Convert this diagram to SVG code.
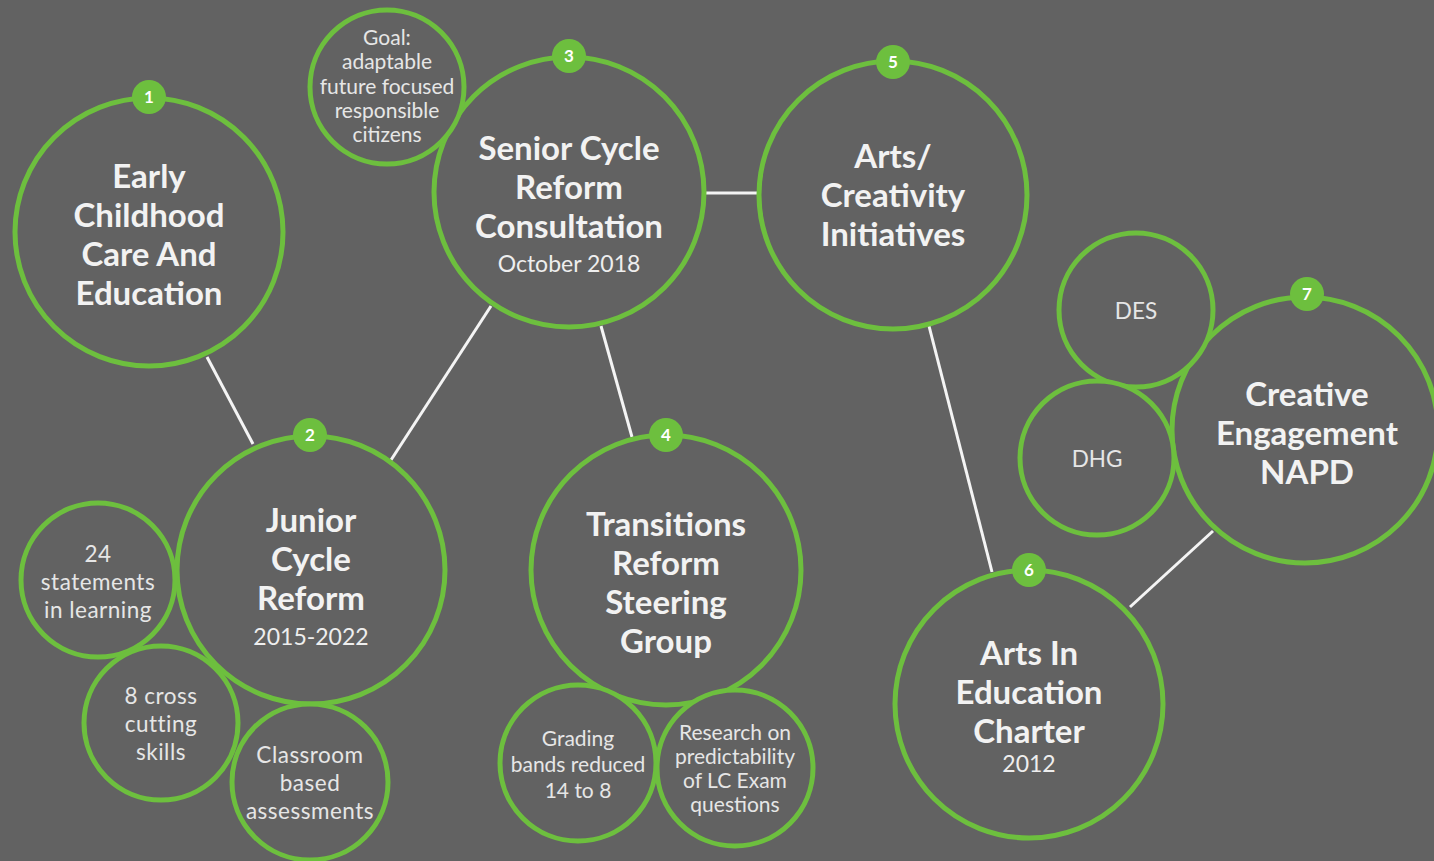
<svg xmlns="http://www.w3.org/2000/svg" width="1434" height="861" viewBox="0 0 1434 861">
<style>
.ring{fill:#626262;stroke:#6dbf3e;stroke-width:5}
.badge{fill:#6dbf3e}
.bn{font-family:Lato,"Liberation Sans",sans-serif;font-weight:700;font-size:17px;fill:#ffffff;text-anchor:middle}
.big{font-family:Lato,"Liberation Sans",sans-serif;font-weight:700;font-size:33px;fill:#f2f2f2;text-anchor:middle}
.sub{font-family:Lato,"Liberation Sans",sans-serif;font-size:23px;fill:#eeeeee;text-anchor:middle}
.sm{font-family:Lato,"Liberation Sans",sans-serif;font-size:21px;fill:#e6e6e6;text-anchor:middle}
.smw{font-family:Lato,"Liberation Sans",sans-serif;font-size:22.5px;letter-spacing:0.5px;fill:#e6e6e6;text-anchor:middle}
.link{stroke:#f4f4f4;stroke-width:3;fill:none}
</style>
<rect width="1434" height="861" fill="#626262"/>
<g id="connectors">
<line class="link" x1="207" y1="357" x2="253" y2="444"/>
<line class="link" x1="391" y1="460" x2="491" y2="306"/>
<line class="link" x1="705" y1="193" x2="757" y2="193"/>
<line class="link" x1="601" y1="326" x2="632" y2="437"/>
<line class="link" x1="929" y1="326" x2="992" y2="572"/>
<line class="link" x1="1130" y1="607" x2="1213" y2="531"/>
</g>
<g id="n1">
<circle class="ring" cx="149" cy="232" r="134"/>
<text class="big" x="149" y="188">Early</text>
<text class="big" x="149" y="227">Childhood</text>
<text class="big" x="149" y="266">Care And</text>
<text class="big" x="149" y="305">Education</text>
<circle class="badge" cx="149" cy="97" r="17"/>
<text class="bn" x="149" y="103">1</text>
</g>
<g id="n2">
<circle class="ring" cx="311" cy="570" r="134"/>
<text class="big" x="311" y="532">Junior</text>
<text class="big" x="311" y="571">Cycle</text>
<text class="big" x="311" y="610">Reform</text>
<text class="sub" x="311" y="645">2015-2022</text>
<circle class="badge" cx="310" cy="435" r="17"/>
<text class="bn" x="310" y="441">2</text>
</g>
<g id="n3">
<circle class="ring" cx="569" cy="192" r="135"/>
<text class="big" x="569" y="160">Senior Cycle</text>
<text class="big" x="569" y="199">Reform</text>
<text class="big" x="569" y="238">Consultation</text>
<text class="sub" x="569" y="272">October 2018</text>
<circle class="badge" cx="569" cy="56" r="17"/>
<text class="bn" x="569" y="62">3</text>
</g>
<g id="n4">
<circle class="ring" cx="666" cy="570" r="135"/>
<text class="big" x="666" y="536">Transitions</text>
<text class="big" x="666" y="575">Reform</text>
<text class="big" x="666" y="614">Steering</text>
<text class="big" x="666" y="653">Group</text>
<circle class="badge" cx="666" cy="435" r="17"/>
<text class="bn" x="666" y="441">4</text>
</g>
<g id="n5">
<circle class="ring" cx="893" cy="195" r="134"/>
<text class="big" x="893" y="168">Arts/</text>
<text class="big" x="893" y="207">Creativity</text>
<text class="big" x="893" y="246">Initiatives</text>
<circle class="badge" cx="893" cy="62" r="17"/>
<text class="bn" x="893" y="68">5</text>
</g>
<g id="n6">
<circle class="ring" cx="1029" cy="704" r="134"/>
<text class="big" x="1029" y="665">Arts In</text>
<text class="big" x="1029" y="704">Education</text>
<text class="big" x="1029" y="743">Charter</text>
<text class="sub" x="1029" y="772">2012</text>
<circle class="badge" cx="1029" cy="570" r="17"/>
<text class="bn" x="1029" y="576">6</text>
</g>
<g id="n7">
<circle class="ring" cx="1305" cy="430" r="133"/>
<text class="big" x="1307" y="406">Creative</text>
<text class="big" x="1307" y="445">Engagement</text>
<text class="big" x="1307" y="484">NAPD</text>
<circle class="badge" cx="1307" cy="294" r="17"/>
<text class="bn" x="1307" y="300">7</text>
</g>
<g id="goal">
<circle class="ring" cx="387" cy="87" r="77"/>
<text class="sm" x="387" y="45">Goal:</text>
<text class="sm" x="387" y="69">adaptable</text>
<text class="sm" x="387" y="94">future focused</text>
<text class="sm" x="387" y="118">responsible</text>
<text class="sm" x="387" y="142">citizens</text>
</g>
<g id="statements">
<circle class="ring" cx="98" cy="580" r="77"/>
<text class="smw" x="98" y="562">24</text>
<text class="smw" x="98" y="590">statements</text>
<text class="smw" x="98" y="618">in learning</text>
</g>
<g id="skills">
<circle class="ring" cx="161" cy="723" r="77"/>
<text class="smw" x="161" y="704">8 cross</text>
<text class="smw" x="161" y="732">cutting</text>
<text class="smw" x="161" y="760">skills</text>
</g>
<g id="classroom">
<circle class="ring" cx="310" cy="782" r="78"/>
<text class="smw" x="310" y="763">Classroom</text>
<text class="smw" x="310" y="791">based</text>
<text class="smw" x="310" y="819">assessments</text>
</g>
<g id="grading">
<circle class="ring" cx="578" cy="763" r="78"/>
<text class="sm" x="578" y="746">Grading</text>
<text class="sm" x="578" y="772">bands reduced</text>
<text class="sm" x="578" y="798">14 to 8</text>
</g>
<g id="research">
<circle class="ring" cx="735" cy="768" r="78"/>
<text class="sm" x="735" y="740">Research on</text>
<text class="sm" x="735" y="764">predictability</text>
<text class="sm" x="735" y="788">of LC Exam</text>
<text class="sm" x="735" y="812">questions</text>
</g>
<g id="des">
<circle class="ring" cx="1136" cy="310" r="77"/>
<text class="sm" x="1136" y="319" style="font-size:22.5px">DES</text>
</g>
<g id="dhg">
<circle class="ring" cx="1097" cy="458" r="77"/>
<text class="sm" x="1097" y="467" style="font-size:22.5px">DHG</text>
</g>
</svg>
